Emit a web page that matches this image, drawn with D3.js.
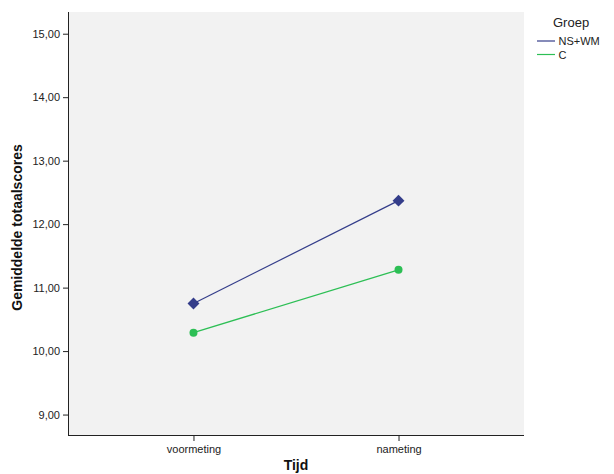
<!DOCTYPE html>
<html><head><meta charset="utf-8">
<script src="https://cdn.jsdelivr.net/npm/d3@7"></script>
<style>body{margin:0;background:#fff}svg{display:block}text{font-family:"Liberation Sans",Arial,sans-serif}</style>
</head><body>
<svg id="c" width="614" height="474"></svg>
<script>
const categories = ["voormeting", "nameting"];
const groups = ["NS+WM", "C"];
const seriesNSWM = [10.75, 12.37];
const seriesC = [10.29, 11.28];
const yTicks = [9, 10, 11, 12, 13, 14, 15];
const colors = ["#343d8a", "#2dbf55"];

const svg = d3.select("#c");
const L = 68, R = 524, T = 12, B = 435;
const x = d3.scalePoint().domain(categories).range([L, R]).padding(0.612);
const y = d3.scaleLinear().domain([8.678, 15.342]).range([B, T]);

svg.append("rect").attr("x", L).attr("y", T).attr("width", R - L).attr("height", B - T).attr("fill", "#f2f2f2");

const fmt = d => d.toFixed(2).replace(".", ",");
const ya = svg.append("g").attr("transform", `translate(${L},0)`)
  .call(d3.axisLeft(y).tickValues(yTicks).tickFormat(fmt).tickSize(5).tickPadding(3).tickSizeOuter(0));
ya.select(".domain").attr("stroke", "#222").attr("d", `M0.5,${T}V${B}`);
ya.selectAll(".tick line").attr("stroke", "#222");
ya.selectAll(".tick text").attr("font-size", 11).attr("fill", "#222");

const xa = svg.append("g").attr("transform", `translate(0,${B})`)
  .call(d3.axisBottom(x).tickSize(6).tickPadding(4).tickSizeOuter(0));
xa.select(".domain").attr("stroke", "#222").attr("d", `M${L},0.5H${R}`);
xa.selectAll(".tick line").attr("stroke", "#222");
xa.selectAll(".tick text").attr("font-size", 11).attr("fill", "#222");

svg.append("text").attr("x", (L + R) / 2).attr("y", 470).attr("text-anchor", "middle")
  .attr("font-size", 14).attr("font-weight", "bold").attr("fill", "#111").text("Tijd");
svg.append("text").attr("transform", `translate(22,${(T + B) / 2 + 4}) rotate(-90)`).attr("text-anchor", "middle")
  .attr("font-size", 14).attr("font-weight", "bold").attr("fill", "#111").text("Gemiddelde totaalscores");

const data = [seriesNSWM, seriesC];
const line = d3.line().x((d, i) => x(categories[i])).y(d => y(d));
data.forEach((s, gi) => {
  svg.append("path").attr("d", line(s)).attr("fill", "none").attr("stroke", colors[gi]).attr("stroke-width", gi === 0 ? 1.2 : 1.4);
});
svg.selectAll(".dia").data(seriesNSWM).join("path")
  .attr("d", d3.symbol(d3.symbolDiamond2 || d3.symbolDiamond, 90)())
  .attr("transform", (d, i) => `translate(${x(categories[i])},${y(d)})`).attr("fill", colors[0]);
svg.selectAll(".dot").data(seriesC).join("circle")
  .attr("cx", (d, i) => x(categories[i])).attr("cy", d => y(d)).attr("r", 4).attr("fill", colors[1]);

// legend
svg.append("text").attr("x", 553).attr("y", 27).attr("font-size", 13).attr("fill", "#222").text("Groep");
groups.forEach((g, i) => {
  const yy = 41 + i * 13.5;
  svg.append("line").attr("x1", 537).attr("x2", 555).attr("y1", yy).attr("y2", yy).attr("stroke", colors[i]).attr("stroke-width", 1.2);
  svg.append("text").attr("x", 558.5).attr("y", yy + 4).attr("font-size", 11).attr("fill", "#222").text(g);
});
</script>
</body></html>
